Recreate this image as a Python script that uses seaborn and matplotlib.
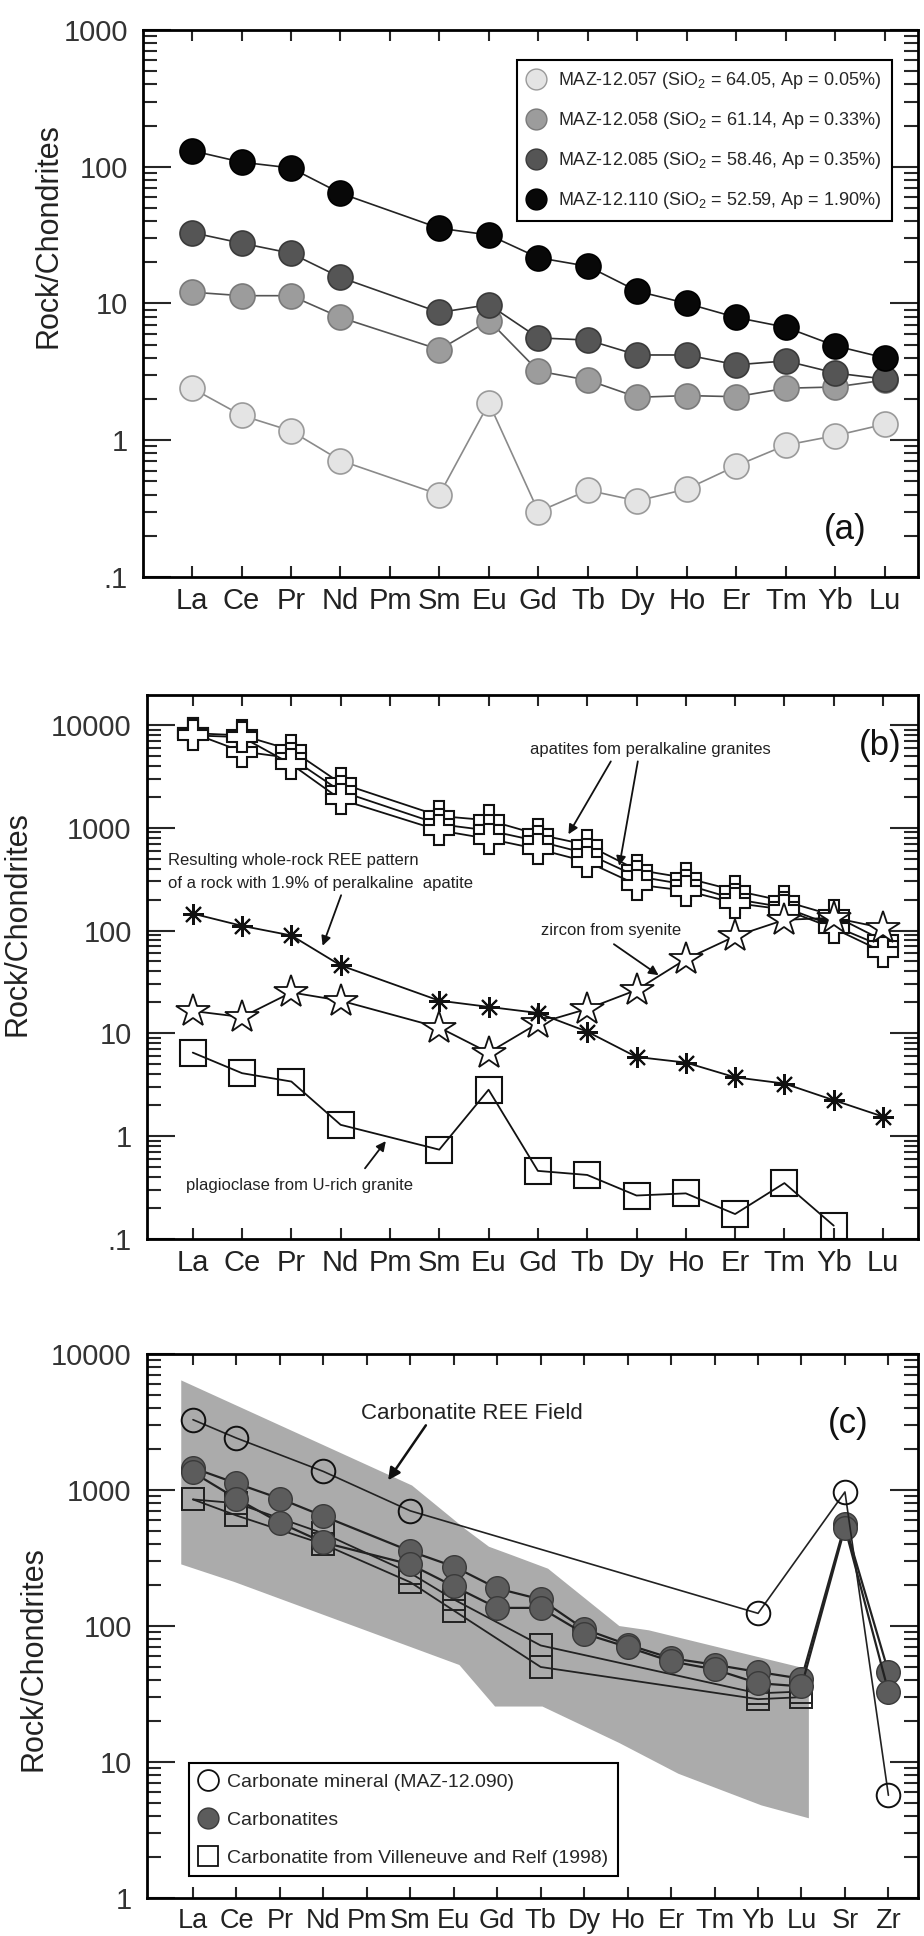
import numpy as np
import pandas as pd
import matplotlib
matplotlib.use("Agg")
import matplotlib.pyplot as plt
import seaborn as sns
from matplotlib.lines import Line2D

nan = np.nan
ree = ['La', 'Ce', 'Pr', 'Nd', 'Pm', 'Sm', 'Eu', 'Gd', 'Tb', 'Dy', 'Ho', 'Er', 'Tm', 'Yb', 'Lu']
ree_c = ree + ['Sr', 'Zr']

# ---- panel (a): whole rocks
maz057 = [2.4, 1.52, 1.17, 0.71, nan, 0.40, 1.87, 0.30, 0.43, 0.36, 0.44, 0.65, 0.92, 1.08, 1.31]
maz058 = [12.1, 11.4, 11.4, 7.9, nan, 4.6, 7.5, 3.2, 2.75, 2.06, 2.12, 2.08, 2.4, 2.45, 2.75]
maz085 = [33, 27.6, 23.3, 15.5, nan, 8.6, 9.8, 5.6, 5.4, 4.2, 4.2, 3.56, 3.8, 3.1, 2.8]
maz110 = [131, 108, 98, 64, nan, 35.5, 31.7, 21.6, 18.7, 12.3, 10.0, 7.9, 6.7, 4.9, 4.0]
labels_a = ['MAZ-12.057 (SiO$_2$ = 64.05, Ap = 0.05%)',
            'MAZ-12.058 (SiO$_2$ = 61.14, Ap = 0.33%)',
            'MAZ-12.085 (SiO$_2$ = 58.46, Ap = 0.35%)',
            'MAZ-12.110 (SiO$_2$ = 52.59, Ap = 1.90%)']

# ---- panel (b): minerals
apatite1 = [8300, 7900, 5700, 2700, nan, 1300, 1180, 860, 680, 390, 325, 245, 193, 140, 80]
apatite2 = [8300, 5500, 4760, 2260, nan, 1080, 940, 740, 560, 337, 280, 202, 168, 111, 70]
apatite3 = [7900, 7600, 4140, 1880, nan, 940, 780, 620, 466, 280, 244, 185, 160, 105, 62]
zircon = [16.5, 14.4, 25, 20.8, nan, 11.4, 6.5, 12.5, 17.3, 26.4, 52.6, 88, 127, 133, 106]
whole_rock = [146, 111, 89.5, 45.8, nan, 20.8, 18.1, 15.8, 10.4, 5.9, 5.2, 3.74, 3.25, 2.24, 1.55]
plagioclase = [6.5, 4.1, 3.4, 1.29, nan, 0.74, 2.83, 0.46, 0.42, 0.265, 0.278, 0.175, 0.35, 0.135, nan]

# ---- panel (c): carbonatites
carb_mineral = [3290, 2410, nan, 1370, nan, 703, nan, nan, nan, nan, nan, nan, nan, 124, nan, 968, 5.7]
carbonatite1 = [1455, 1120, 865, 643, nan, 355, 274, 189, 157, 95, 73, 58, 52, 46, 41, 560, 46]
carbonatite2 = [1350, 865, 575, 412, nan, 284, 196, 136, 136, 88, 70, 55, 48, 38, 36, 530, 33]
villeneuve1 = [853, 800, nan, 480, nan, 245, 157, nan, 72, nan, nan, nan, nan, 32, 33, nan, nan]
villeneuve2 = [853, 650, nan, 400, nan, 210, 130, nan, 50, nan, nan, nan, nan, 29, 30, nan, nan]
field_up_x = [-0.27, 5.04, 6.27, 6.81, 7.36, 8.17, 9.81, 10.49, 14.17]
field_up = [6400, 1080, 515, 383, 330, 264, 100, 93, 48]
field_lo_x = [-0.27, 0.95, 5.04, 6.13, 6.95, 8.04, 9.81, 11.17, 13.08, 14.17]
field_lo = [284, 211, 69.5, 51.7, 25.6, 25.6, 13.8, 8.2, 4.8, 3.86]
labels_c = ['Carbonate mineral (MAZ-12.090)', 'Carbonatites',
            'Carbonatite from Villeneuve and Relf (1998)']

sns.set_theme(style="ticks")
plt.rcParams['font.family'] = ['Liberation Sans', 'DejaVu Sans']
plt.rcParams['mathtext.fontset'] = 'custom'
plt.rcParams['mathtext.rm'] = 'Liberation Sans'


def series(ax, values, **kw):
    df = pd.DataFrame({'x': np.arange(len(values)), 'y': values}).dropna()
    sns.lineplot(data=df, x='x', y='y', ax=ax, estimator=None, sort=False,
                 legend=False, **kw)


def style_axes(ax, names, xlim, ylim, yticks, ylabels, label_xy, xsize):
    ax.set_yscale('log')
    ax.set_xlim(*xlim)
    ax.set_ylim(*ylim)
    ax.set_xticks(range(len(names)))
    ax.set_xticklabels(names, fontsize=xsize, color='#222')
    ax.set_yticks(yticks)
    ax.set_yticklabels(ylabels, fontsize=21, color='#333')
    ax.set_xlabel('')
    ax.set_ylabel('Rock/Chondrites', fontsize=22, color='#222')
    ax.yaxis.set_label_coords(*label_xy)
    ax.tick_params(axis='x', which='both', direction='in', top=True, bottom=True,
                   length=8, width=1.5, pad=7)
    ax.tick_params(axis='x', which='minor', length=0)
    ax.tick_params(axis='y', which='major', direction='in', left=True, right=True,
                   length=20, width=1.5, pad=11)
    ax.tick_params(axis='y', which='minor', direction='in', left=True, right=True,
                   length=10, width=1.5, labelleft=False)
    for sp in ax.spines.values():
        sp.set_visible(True)
        sp.set_linewidth(2)
        sp.set_color('black')


fig = plt.figure(figsize=(9.24, 19.36), dpi=100)

# ================= (a)
ax = fig.add_axes([0.1548, 0.702, 0.8387, 0.2825])
ax.set_yscale('log')
styles_a = [
    (maz057, '#e4e4e4', '#9a9a9a', '#8a8a8a'),
    (maz058, '#9c9c9c', '#7a7a7a', '#555555'),
    (maz085, '#555555', '#3a3a3a', '#333333'),
    (maz110, '#080808', '#000000', '#222222'),
]
for vals, fc, ec, lc in styles_a:
    series(ax, vals, color=lc, linewidth=1.2, marker='o', markersize=18,
           markerfacecolor=fc, markeredgecolor=ec, markeredgewidth=1.2)
style_axes(ax, ree, (-0.99, 14.67), (0.1, 1000), [0.1, 1, 10, 100, 1000],
           ['.1', '1', '10', '100', '1000'], (-0.103, 0.625), 21)
handles = [Line2D([], [], linestyle='none', marker='o', markersize=15,
                  markerfacecolor=fc, markeredgecolor=ec, markeredgewidth=1)
           for _, fc, ec, _ in styles_a]
leg = ax.legend(handles, labels_a, loc='upper right', bbox_to_anchor=(0.966, 0.945),
                fontsize=13, frameon=True, fancybox=False, edgecolor='black',
                framealpha=1, handlelength=1.0, handletextpad=0.7,
                labelspacing=1.05, borderpad=0.55, borderaxespad=0)
leg.get_frame().set_linewidth(1.5)
ax.text(0.906, 0.086, '(a)', transform=ax.transAxes, fontsize=25,
        ha='center', va='center', color='#111')

# ================= (b)
ax = fig.add_axes([0.159, 0.36, 0.834, 0.281])
ax.set_yscale('log')
for vals in (apatite1, apatite2, apatite3):
    series(ax, vals, color='#111', linewidth=1.3, marker='P', markersize=21,
           markerfacecolor='white', markeredgecolor='#111', markeredgewidth=1.5)
series(ax, zircon, color='#111', linewidth=1.3, marker='*', markersize=25,
       markerfacecolor='white', markeredgecolor='#111', markeredgewidth=1.3)
series(ax, whole_rock, color='#111', linewidth=1.3, marker=(8, 2, 0), markersize=15,
       markerfacecolor='none', markeredgecolor='#111', markeredgewidth=1.5)
series(ax, plagioclase, color='#111', linewidth=1.3, marker='s', markersize=19,
       markerfacecolor='none', markeredgecolor='#111', markeredgewidth=1.5)
style_axes(ax, ree, (-0.93, 14.7), (0.1, 19500), [0.1, 1, 10, 100, 1000, 10000],
           ['.1', '1', '10', '100', '1000', '10000'], (-0.148, 0.58), 21)

tx = dict(transform=ax.transAxes, fontsize=12, color='#222', ha='left', va='center')
arr = dict(arrowstyle='-|>', color='#111', lw=1.3, mutation_scale=14, shrinkA=0, shrinkB=0)
ax.text(0.497, 0.90, 'apatites fom peralkaline granites', **tx)
ax.annotate('', xy=(0.547, 0.744), xytext=(0.602, 0.878),
            xycoords='axes fraction', textcoords='axes fraction', arrowprops=arr)
ax.annotate('', xy=(0.613, 0.686), xytext=(0.637, 0.878),
            xycoords='axes fraction', textcoords='axes fraction', arrowprops=arr)
ax.text(0.027, 0.695, 'Resulting whole-rock REE pattern', **tx)
ax.text(0.027, 0.653, 'of a rock with 1.9% of peralkaline  apatite', **tx)
ax.annotate('', xy=(0.228, 0.539), xytext=(0.252, 0.632),
            xycoords='axes fraction', textcoords='axes fraction', arrowprops=arr)
ax.text(0.512, 0.568, 'zircon from syenite', **tx)
ax.annotate('', xy=(0.664, 0.485), xytext=(0.606, 0.542),
            xycoords='axes fraction', textcoords='axes fraction', arrowprops=arr)
ax.text(0.051, 0.099, 'plagioclase from U-rich granite', **tx)
ax.annotate('', xy=(0.31, 0.18), xytext=(0.283, 0.13),
            xycoords='axes fraction', textcoords='axes fraction', arrowprops=arr)
ax.text(0.951, 0.908, '(b)', transform=ax.transAxes, fontsize=25,
        ha='center', va='center', color='#111')

# ================= (c)
ax = fig.add_axes([0.159, 0.0196, 0.834, 0.281])
ax.set_yscale('log')
poly_x = field_up_x + field_lo_x[::-1]
poly_y = field_up + field_lo[::-1]
ax.fill(poly_x, poly_y, color='#ababab', linewidth=0, zorder=0)
for vals in (villeneuve1, villeneuve2):
    series(ax, vals, color='#222', linewidth=1.3, marker='s', markersize=16,
           markerfacecolor='none', markeredgecolor='#222', markeredgewidth=1.4)
for vals in (carbonatite1, carbonatite2):
    series(ax, vals, color='#222', linewidth=1.6, marker='o', markersize=17,
           markerfacecolor='#5c5c5c', markeredgecolor='#3a3a3a', markeredgewidth=1.0)
series(ax, carb_mineral, color='#222', linewidth=1.2, marker='o', markersize=17,
       markerfacecolor='none', markeredgecolor='#111', markeredgewidth=1.4)
style_axes(ax, ree_c, (-1.06, 16.67), (1, 10000), [1, 10, 100, 1000, 10000],
           ['1', '10', '100', '1000', '10000'], (-0.128, 0.44), 19.5)

handles = [
    Line2D([], [], linestyle='none', marker='o', markersize=15, markerfacecolor='white',
           markeredgecolor='#111', markeredgewidth=1.3),
    Line2D([], [], linestyle='none', marker='o', markersize=15, markerfacecolor='#5c5c5c',
           markeredgecolor='#3a3a3a', markeredgewidth=1.0),
    Line2D([], [], linestyle='none', marker='s', markersize=14, markerfacecolor='white',
           markeredgecolor='#111', markeredgewidth=1.3),
]
leg = ax.legend(handles, labels_c, loc='lower left', bbox_to_anchor=(0.054, 0.04),
                fontsize=14, frameon=True, fancybox=False, edgecolor='black',
                framealpha=1, handlelength=1.0, handletextpad=0.5,
                labelspacing=1.05, borderpad=0.5, borderaxespad=0)
leg.get_frame().set_linewidth(1.5)
ax.text(0.278, 0.89, 'Carbonatite REE Field', transform=ax.transAxes, fontsize=16,
        ha='left', va='center', color='#222')
ax.annotate('', xy=(0.313, 0.768), xytext=(0.362, 0.869),
            xycoords='axes fraction', textcoords='axes fraction',
            arrowprops=dict(arrowstyle='-|>', color='#111', lw=1.8, mutation_scale=18,
                            shrinkA=0, shrinkB=0))
ax.text(0.91, 0.873, '(c)', transform=ax.transAxes, fontsize=25,
        ha='center', va='center', color='#111')

fig.savefig('out.png', dpi=100, facecolor='white')
